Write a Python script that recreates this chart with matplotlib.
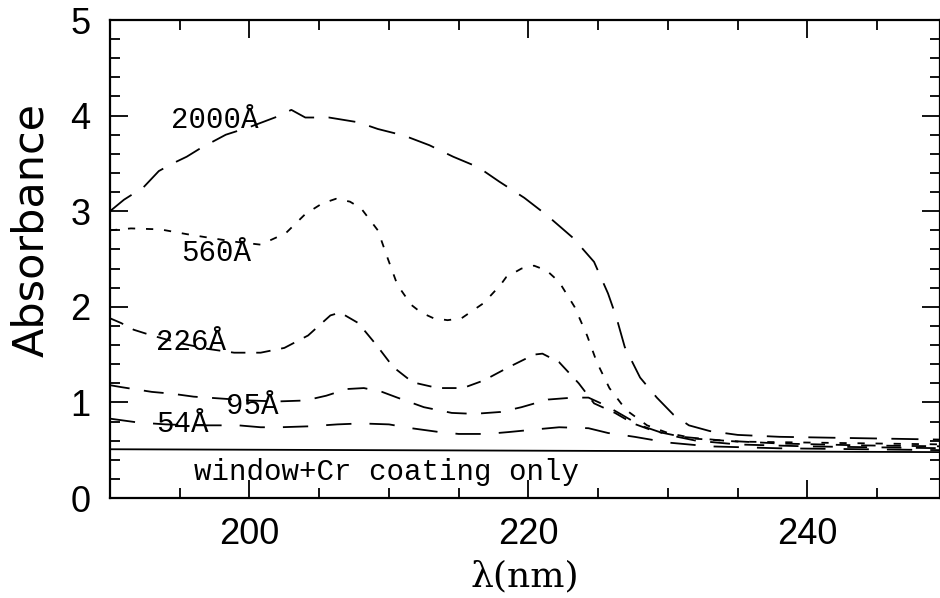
import matplotlib
matplotlib.use("Agg")
import matplotlib.pyplot as plt
from matplotlib.ticker import MultipleLocator

# absorbance spectra
x_2000 = [190.0, 191.0, 192.4, 193.5, 194.5, 195.5, 196.5, 198.3, 200.0, 202.0, 203.0, 204.0,
          205.7, 207.8, 209.2, 211.1, 212.9, 214.6, 216.4, 217.9, 219.7, 221.3, 223.2, 224.7,
          225.7, 226.3, 226.9, 228.0, 229.2, 230.4, 231.5, 233.0, 235.0, 238.0, 242.0, 246.0, 250.0]
y_2000 = [3.00, 3.12, 3.25, 3.42, 3.50, 3.57, 3.66, 3.80, 3.88, 3.99, 4.06, 3.98,
          3.98, 3.93, 3.86, 3.79, 3.69, 3.57, 3.46, 3.31, 3.14, 2.96, 2.72, 2.47,
          2.14, 1.89, 1.58, 1.26, 1.05, 0.87, 0.76, 0.70, 0.66, 0.64, 0.63, 0.62, 0.61]

x_560 = [190.0, 191.5, 193.6, 195.5, 197.2, 199.0, 200.8, 202.6, 204.0, 205.2, 206.2, 207.2,
         208.0, 209.2, 209.9, 210.6, 211.6, 212.3, 213.2, 214.2, 215.2, 216.8, 218.0, 218.4,
         219.5, 220.4, 221.3, 222.2, 223.3, 224.2, 224.9, 225.8, 227.0, 228.5, 230.0, 232.0,
         235.0, 240.0, 245.0, 250.0]
y_560 = [2.80, 2.82, 2.81, 2.76, 2.72, 2.68, 2.65, 2.77, 2.97, 3.08, 3.13, 3.10,
         3.03, 2.80, 2.51, 2.23, 2.02, 1.94, 1.88, 1.86, 1.88, 2.04, 2.23, 2.31,
         2.40, 2.43, 2.38, 2.26, 2.00, 1.70, 1.42, 1.15, 0.92, 0.76, 0.68, 0.62,
         0.59, 0.58, 0.57, 0.56]

x_226 = [190.0, 190.8, 191.7, 193.0, 195.0, 197.0, 198.9, 200.8, 202.5, 204.2, 205.8, 206.5,
         207.8, 209.1, 210.3, 211.7, 213.5, 215.3, 216.8, 218.6, 220.4, 221.0, 222.2, 223.6,
         224.7, 226.2, 227.5, 229.0, 231.0, 234.0, 238.0, 244.0, 250.0]
y_226 = [1.88, 1.83, 1.76, 1.70, 1.62, 1.56, 1.52, 1.52, 1.57, 1.70, 1.91, 1.94,
         1.83, 1.60, 1.37, 1.21, 1.15, 1.15, 1.23, 1.37, 1.50, 1.51, 1.42, 1.20,
         0.99, 0.89, 0.78, 0.70, 0.64, 0.60, 0.57, 0.55, 0.54]

x_95 = [190.0, 190.8, 193.0, 194.5, 196.0, 198.0, 200.0, 202.0, 204.0, 205.5, 207.0, 208.2,
        209.5, 210.6, 212.5, 214.5, 216.1, 218.0, 219.5, 221.4, 223.2, 224.3, 225.5, 226.7,
        228.0, 230.0, 232.0, 235.0, 240.0, 245.0, 250.0]
y_95 = [1.18, 1.16, 1.11, 1.09, 1.06, 1.04, 1.02, 1.01, 1.02, 1.07, 1.14, 1.15,
        1.11, 1.05, 0.95, 0.89, 0.88, 0.90, 0.95, 1.03, 1.05, 1.05, 0.97, 0.87,
        0.76, 0.66, 0.60, 0.56, 0.54, 0.53, 0.52]

x_54 = [190.0, 191.0, 192.0, 194.0, 196.0, 197.5, 199.2, 200.8, 202.2, 204.3, 206.3, 208.0,
        210.0, 211.6, 213.6, 215.0, 217.0, 218.6, 220.7, 222.2, 224.3, 225.7, 227.6, 230.0,
        233.0, 238.0, 244.0, 250.0]
y_54 = [0.83, 0.81, 0.79, 0.77, 0.76, 0.76, 0.76, 0.74, 0.74, 0.75, 0.77, 0.78,
        0.77, 0.73, 0.69, 0.67, 0.67, 0.69, 0.72, 0.74, 0.73, 0.68, 0.64, 0.58,
        0.54, 0.52, 0.51, 0.50]

x_base = [190.0, 250.0]
y_base = [0.51, 0.48]

fig = plt.figure(figsize=(9.4, 5.98), dpi=100)
ax = fig.add_axes([110 / 940, 100 / 598, 830 / 940, 478 / 598])

lw = 1.3
ax.plot(x_2000, y_2000, color="black", lw=lw, dashes=(15, 8))
ax.plot(x_560, y_560, color="black", lw=lw, dashes=(4, 6))
ax.plot(x_226, y_226, color="black", lw=lw, dashes=(8, 6))
ax.plot(x_95, y_95, color="black", lw=lw, dashes=(11, 8))
ax.plot(x_54, y_54, color="black", lw=lw, dashes=(14, 10))
ax.plot(x_base, y_base, color="black", lw=lw)

mono = "Liberation Mono"
ax.text(194.4, 3.95, "2000Å", family=mono, fontsize=21, va="center")
ax.text(195.1, 2.56, "560Å", family=mono, fontsize=21, va="center")
ax.text(193.3, 1.63, "226Å", family=mono, fontsize=21, va="center")
ax.text(198.3, 0.96, "95Å", family=mono, fontsize=21, va="center")
ax.text(193.3, 0.77, "54Å", family=mono, fontsize=21, va="center")
ax.text(196.0, 0.27, "window+Cr coating only", family=mono, fontsize=21, va="center")

ax.set_xlim(190, 249.5)
ax.set_ylim(0, 5)
ax.xaxis.set_major_locator(MultipleLocator(20))
ax.xaxis.set_minor_locator(MultipleLocator(5))
ax.yaxis.set_major_locator(MultipleLocator(1))
ax.yaxis.set_minor_locator(MultipleLocator(0.2))
ax.tick_params(which="both", direction="in", top=True, right=True, width=1.3)
ax.tick_params(which="major", length=13)
ax.tick_params(which="minor", length=7)
ax.tick_params(axis="both", which="major", labelsize=26, pad=14)
for lab in ax.get_xticklabels() + ax.get_yticklabels():
    lab.set_family("Liberation Sans")
for s in ax.spines.values():
    s.set_linewidth(1.6)

ax.set_xlabel("λ(nm)", family="DejaVu Serif", fontsize=26, labelpad=5)
ax.set_ylabel("Absorbance", family="DejaVu Sans", fontsize=31)
ax.yaxis.set_label_coords(-0.07, 0.56)

fig.savefig("out.png", dpi=100)
